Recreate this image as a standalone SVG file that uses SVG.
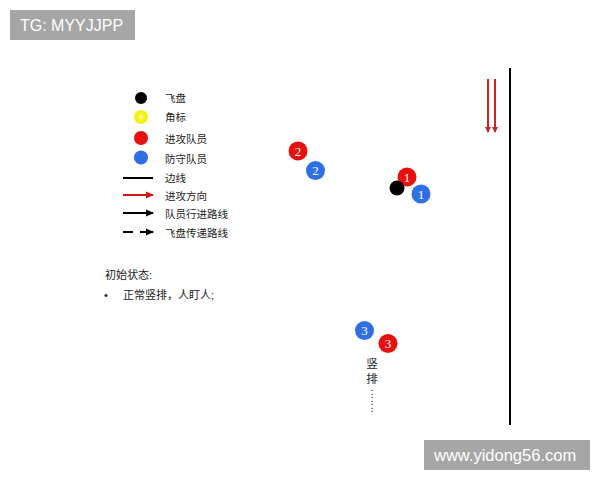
<svg xmlns="http://www.w3.org/2000/svg" width="600" height="480" viewBox="0 0 600 480">
<style>
.lbl{font-family:"Liberation Sans","Noto Sans CJK SC",sans-serif;font-size:10.5px;fill:#222}
.txt{font-family:"Liberation Sans","Noto Sans CJK SC",sans-serif;font-size:11px;fill:#222}
.num{font-family:"Liberation Serif",serif;font-size:13px;fill:#fff;text-anchor:middle}
.red{fill:#e8100f}
.blue{fill:#2e6fe3}
.wm{fill:#a6a6a6}
.wmt{font-family:"Liberation Sans",sans-serif;font-size:16.5px;fill:#fff}
</style>
<defs>
<radialGradient id="yg"><stop offset="0" stop-color="#fffbd0"/><stop offset="0.45" stop-color="#f7f21c"/><stop offset="1" stop-color="#f2ee10"/></radialGradient>
<marker id="ab" markerWidth="8" markerHeight="8" refX="7" refY="4" orient="auto" markerUnits="userSpaceOnUse"><path d="M0,0.5 L8,4 L0,7.5 Z" fill="#000"/></marker>
<marker id="ar" markerWidth="8" markerHeight="8" refX="7" refY="4" orient="auto" markerUnits="userSpaceOnUse"><path d="M0,0.5 L8,4 L0,7.5 Z" fill="#d01818"/></marker>
<marker id="ad" markerWidth="6" markerHeight="8" refX="5" refY="4" orient="auto" markerUnits="userSpaceOnUse"><path d="M0,1 L6,4 L0,7 Z" fill="#c0282a"/></marker>
</defs>
<rect width="600" height="480" fill="#fff"/>
<g id="watermark-tg"><rect class="wm" x="10" y="10" width="125" height="30"/><text class="wmt" x="20" y="31" style="font-size:16px">TG: MYYJJPP</text></g>
<g id="legend">
<circle cx="141" cy="98" r="6" fill="#000"/>
<circle cx="141" cy="117" r="7" fill="url(#yg)"/>
<circle cx="141" cy="138" r="7" class="red"/>
<circle cx="141" cy="157.5" r="7" class="blue"/>
<line x1="123" y1="178" x2="153" y2="178" stroke="#000" stroke-width="2"/>
<line x1="123" y1="195" x2="153" y2="195" stroke="#d01818" stroke-width="2" marker-end="url(#ar)"/>
<line x1="123" y1="213" x2="153" y2="213" stroke="#000" stroke-width="2" marker-end="url(#ab)"/>
<line x1="123" y1="232" x2="133" y2="232" stroke="#000" stroke-width="2"/>
<line x1="140" y1="232" x2="153" y2="232" stroke="#000" stroke-width="2" marker-end="url(#ab)"/>
<text class="lbl" x="165" y="102">飞盘</text>
<text class="lbl" x="165" y="121">角标</text>
<text class="lbl" x="165" y="143">进攻队员</text>
<text class="lbl" x="165" y="163">防守队员</text>
<text class="lbl" x="165" y="182">边线</text>
<text class="lbl" x="165" y="200">进攻方向</text>
<text class="lbl" x="165" y="218">队员行进路线</text>
<text class="lbl" x="165" y="237">飞盘传递路线</text>
</g>
<g id="notes">
<text class="txt" x="105" y="279">初始状态:</text>
<text class="txt" x="104" y="299">•</text>
<text class="txt" x="123" y="299">正常竖排，人盯人;</text>
</g>
<g id="sideline"><line x1="510" y1="68" x2="510" y2="425" stroke="#000" stroke-width="2"/></g>
<g id="connectors">
<line x1="488" y1="79" x2="488" y2="132" stroke="#c0282a" stroke-width="2" marker-end="url(#ad)"/>
<line x1="495" y1="79" x2="495" y2="132" stroke="#c0282a" stroke-width="2" marker-end="url(#ad)"/>
</g>
<g id="o2"><circle cx="298" cy="151" r="9.5" class="red"/><text class="num" x="298" y="155.5">2</text></g>
<g id="d2"><circle cx="315.5" cy="170.5" r="9.5" class="blue"/><text class="num" x="315.5" y="175">2</text></g>
<g id="o1"><circle cx="407" cy="177" r="9.5" class="red"/><text class="num" x="407" y="181.5">1</text></g>
<g id="disc"><circle cx="397" cy="188" r="7.5" fill="#000"/></g>
<g id="d1"><circle cx="421" cy="194" r="9.5" class="blue"/><text class="num" x="421" y="198.5">1</text></g>
<g id="d3"><circle cx="364.5" cy="330.5" r="9.5" class="blue"/><text class="num" x="364.5" y="335">3</text></g>
<g id="o3"><circle cx="388" cy="343.5" r="9.5" class="red"/><text class="num" x="388" y="348">3</text></g>
<g id="stack-label">
<text text-anchor="middle" style="font-family:'Liberation Sans','Noto Sans CJK SC',sans-serif;font-size:11.5px;fill:#222" x="372 372 372 372 372 372 372 372 372" y="368 383 391 394.5 398 401.5 405 408.5 412">竖排.......</text>
</g>
<g id="watermark-site"><rect class="wm" x="424" y="440" width="166" height="30"/><text class="wmt" x="434" y="461">www.yidong56.com</text></g>
</svg>
